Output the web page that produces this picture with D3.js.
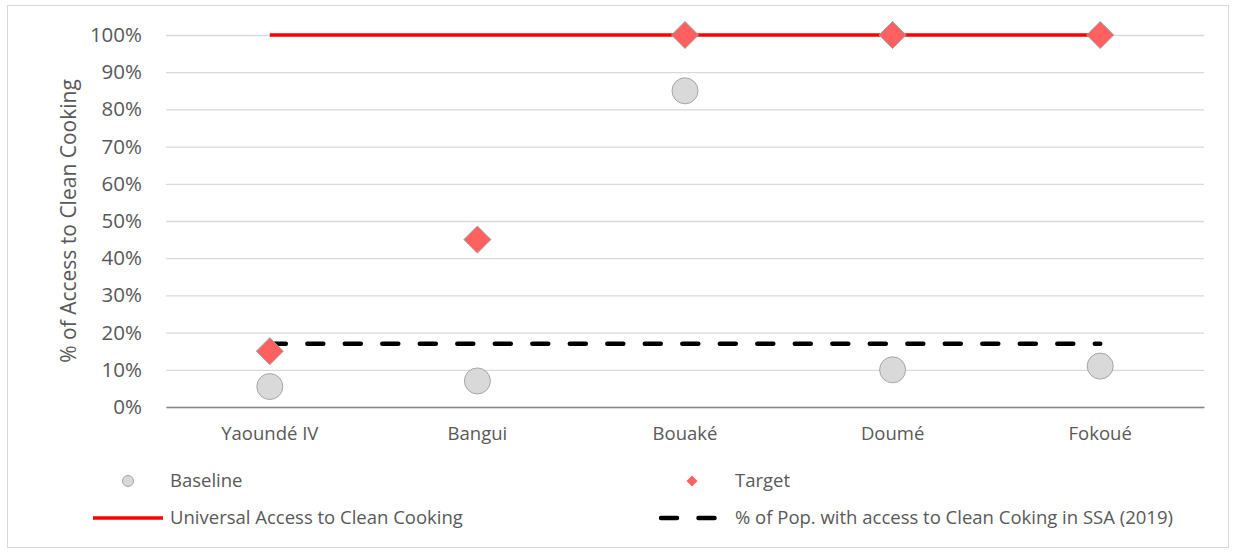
<!DOCTYPE html>
<html>
<head>
<meta charset="utf-8">
<script src="https://cdn.jsdelivr.net/npm/d3@7"></script>
<style>
  html, body { margin: 0; padding: 0; background: #fff; }
  text { font-family: "Open Sans", "Liberation Sans", sans-serif; fill: #595959; }
</style>
</head>
<body>
<svg id="chart" width="1234" height="552"></svg>
<script>
// Cities and their shares of households with access to clean cooking
const cities = ["Yaoundé IV", "Bangui", "Bouaké", "Doumé", "Fokoué"];
const baseline = [0.055, 0.07, 0.85, 0.10, 0.11];
const target = [0.15, 0.45, 1.00, 1.00, 1.00];
const universalAccess = [1, 1, 1, 1, 1];
const ssaAccess2019 = [0.17, 0.17, 0.17, 0.17, 0.17];
const yTicks = [0, 0.1, 0.2, 0.3, 0.4, 0.5, 0.6, 0.7, 0.8, 0.9, 1.0];
const legendLabels = ["Baseline", "Target", "Universal Access to Clean Cooking",
  "% of Pop. with access to Clean Coking in SSA (2019)"];

const FONT = '"Open Sans", "Liberation Sans", sans-serif';
const svg = d3.select("#chart");
const plot = { left: 166, right: 1204, top: 35, bottom: 407 };

// outer frame
svg.append("rect")
  .attr("x", 7.5).attr("y", 5.5).attr("width", 1221).attr("height", 542)
  .attr("fill", "#fff").attr("stroke", "#d9d9d9").attr("stroke-width", 1);

const x = d3.scaleBand().domain(cities).range([plot.left, plot.right]);
const y = d3.scaleLinear().domain([0, 1]).range([plot.bottom, plot.top]);
const cx = c => x(c) + x.bandwidth() / 2;

// horizontal gridlines + y tick labels
const yAxis = d3.axisLeft(y).tickValues(yTicks).tickFormat(d3.format(".0%"))
  .tickSize(-(plot.right - plot.left)).tickPadding(24);
const gy = svg.append("g").attr("transform", `translate(${plot.left},0)`).call(yAxis);
gy.select(".domain").remove();
gy.selectAll(".tick line").attr("stroke", "#d9d9d9").attr("stroke-width", 1.3);
gy.selectAll(".tick text").attr("font-size", 20.5).attr("fill", "#595959")
  .style("font-family", FONT);

// category axis
const xAxis = d3.axisBottom(x).tickSize(0).tickPadding(20);
const gx = svg.append("g").attr("transform", `translate(0,${plot.bottom})`).call(xAxis);
gx.select(".domain").attr("stroke", "#868686").attr("stroke-width", 1.3);
gx.selectAll(".tick text").attr("font-size", 18.5).attr("fill", "#595959")
  .style("font-family", FONT);

// y-axis title
svg.append("text")
  .attr("transform", `translate(76,${(plot.top + plot.bottom) / 2}) rotate(-90)`)
  .attr("text-anchor", "middle").attr("font-size", 21)
  .text("% of Access to Clean Cooking");

const line = d3.line().x((d, i) => cx(cities[i])).y(d => y(d));

// universal access reference
svg.append("path").datum(universalAccess)
  .attr("d", line).attr("fill", "none").attr("stroke", "#ff0000").attr("stroke-width", 3.5);

// regional average (dashed)
svg.append("path").datum(ssaAccess2019)
  .attr("d", line).attr("fill", "none").attr("stroke", "#000")
  .attr("stroke-width", 4.5).attr("stroke-linecap", "round")
  .attr("stroke-dasharray", "16 21.5");

// baseline circles
svg.append("g").selectAll("circle").data(baseline).join("circle")
  .attr("cx", (d, i) => cx(cities[i])).attr("cy", d => y(d)).attr("r", 13)
  .attr("fill", "#d9d9d9").attr("stroke", "#a6a6a6").attr("stroke-width", 1);

// target diamonds
const diamond = s => `M0,${-s}L${s},0L0,${s}L${-s},0Z`;
svg.append("g").selectAll("path").data(target).join("path")
  .attr("d", diamond(13.5))
  .attr("transform", (d, i) => `translate(${cx(cities[i])},${y(d)})`)
  .attr("fill", "#ff6161").attr("stroke", "#a0a0a0").attr("stroke-width", 1);

// legend
const lg = svg.append("g").attr("font-size", 18.5);
lg.append("circle").attr("cx", 128).attr("cy", 481).attr("r", 5.5)
  .attr("fill", "#d9d9d9").attr("stroke", "#a6a6a6");
lg.append("text").attr("x", 170).attr("y", 487).text(legendLabels[0]);

lg.append("path").attr("d", diamond(5.5)).attr("transform", "translate(692,481)")
  .attr("fill", "#ff6161");
lg.append("text").attr("x", 735).attr("y", 487).text(legendLabels[1]);

lg.append("line").attr("x1", 93).attr("x2", 163).attr("y1", 518).attr("y2", 518)
  .attr("stroke", "#ff0000").attr("stroke-width", 3.5);
lg.append("text").attr("x", 170).attr("y", 524).text(legendLabels[2]);

lg.append("line").attr("x1", 661).attr("x2", 722).attr("y1", 518).attr("y2", 518)
  .attr("stroke", "#000").attr("stroke-width", 4.5).attr("stroke-linecap", "round")
  .attr("stroke-dasharray", "16 21.5");
lg.append("text").attr("x", 735).attr("y", 524).text(legendLabels[3]);
</script>
</body>
</html>
